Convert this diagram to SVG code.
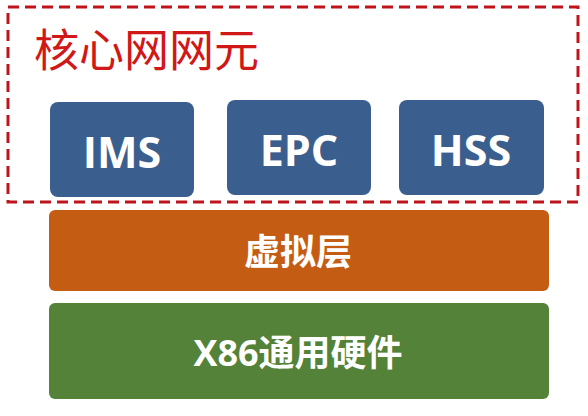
<svg xmlns="http://www.w3.org/2000/svg" width="588" height="416" viewBox="0 0 588 416">
<style>
.nf{fill:#3a5f8f}
.t{font-family:"Open Sans","Noto Sans CJK SC",sans-serif;font-weight:bold;fill:#fff;text-anchor:middle}
.c{font-family:"Noto Sans CJK SC",sans-serif;font-weight:bold;fill:#fff;text-anchor:middle}
</style>
<rect width="588" height="416" fill="#fff"/>
<g id="core">
<rect x="8" y="7" width="570" height="195" fill="none" stroke="#c0141c" stroke-width="3" stroke-dasharray="11 6"/>
<text x="34" y="67" font-family="Noto Sans CJK SC,sans-serif" font-size="45" fill="#d01818">核心网网元</text>
</g>
<g id="ims"><rect class="nf" x="50" y="102" width="144" height="95" rx="8"/><text class="t" x="122" y="168" font-size="43">IMS</text></g>
<g id="epc"><rect class="nf" x="227" y="100" width="144" height="95" rx="8"/><text class="t" x="299" y="166" font-size="43">EPC</text></g>
<g id="hss"><rect class="nf" x="399" y="100" width="145" height="95" rx="8"/><text class="t" x="471" y="166" font-size="43">HSS</text></g>
<g id="virt"><rect x="49" y="210" width="500" height="81" rx="6" fill="#c55c14"/><text class="c" x="298" y="265" font-size="36">虚拟层</text></g>
<g id="hw"><rect x="49" y="303" width="500" height="96" rx="6" fill="#548238"/><text class="t" x="298" y="366" font-size="36">X86通用硬件</text></g>
<g id="connectors"/>
</svg>
